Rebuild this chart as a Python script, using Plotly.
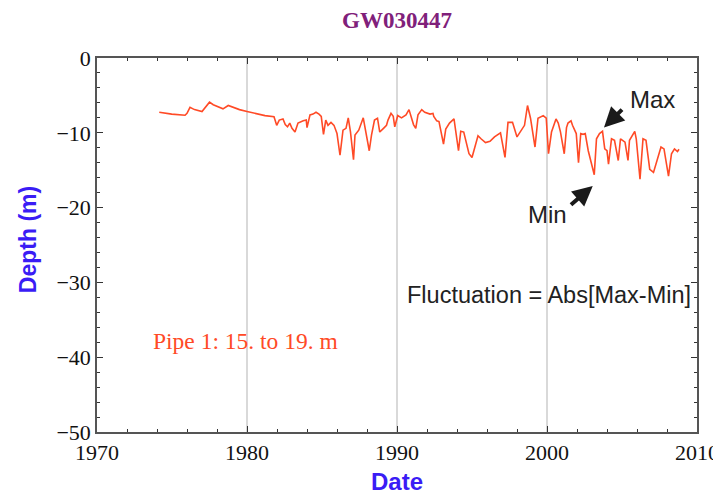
import plotly.graph_objects as go

years = [1974.15, 1974.98, 1975.87, 1976.0, 1976.2, 1976.5, 1977.0, 1977.2, 1977.5, 1977.75,
         1978.0, 1978.4, 1978.75, 1979.1, 1979.5, 1980.0, 1980.65, 1981.2, 1981.8, 1981.98,
         1982.15, 1982.4, 1982.55, 1982.7, 1982.85, 1983.0, 1983.2, 1983.4, 1983.75, 1983.95,
         1984.0, 1984.2, 1984.4, 1984.6, 1984.8, 1984.95, 1985.1, 1985.25, 1985.4, 1985.6,
         1985.8, 1986.0, 1986.2, 1986.4, 1986.6, 1986.75, 1986.9, 1987.1, 1987.2, 1987.45,
         1987.75, 1987.95, 1988.15, 1988.3, 1988.5, 1988.7, 1988.85, 1989.1, 1989.3, 1989.4,
         1989.6, 1989.75, 1989.85, 1990.05, 1990.3, 1990.6, 1990.8, 1991.1, 1991.25, 1991.4,
         1991.65, 1991.85, 1992.2, 1992.4, 1992.45, 1992.65, 1992.8, 1993.1, 1993.25, 1993.5,
         1993.8, 1994.1, 1994.25, 1994.45, 1994.6, 1994.8, 1995.0, 1995.4, 1995.6, 1995.9,
         1996.2, 1996.5, 1996.9, 1997.2, 1997.4, 1997.7, 1998.0, 1998.5, 1998.7, 1998.9,
         1999.2, 1999.4, 1999.75, 1999.95, 2000.1, 2000.3, 2000.6, 2000.75, 2000.9, 2001.15,
         2001.3, 2001.4, 2001.6, 2001.7, 2001.95, 2002.1, 2002.25, 2002.4, 2002.55, 2002.75,
         2002.95, 2003.15, 2003.3, 2003.5, 2003.7, 2003.85, 2004.0, 2004.1, 2004.3, 2004.5,
         2004.75, 2004.9, 2005.2, 2005.4, 2005.5, 2005.85, 2005.95, 2006.2, 2006.4, 2006.6,
         2006.85, 2007.1, 2007.6, 2007.8, 2008.1, 2008.3, 2008.5, 2008.7, 2008.8]
depth = [-7.25, -7.5, -7.65, -7.4, -6.6, -6.9, -7.15, -6.6, -5.9, -6.25,
         -6.5, -6.8, -6.35, -6.6, -6.9, -7.15, -7.45, -7.7, -7.85, -9.0,
         -8.3, -8.15, -8.9, -9.2, -8.7, -9.4, -9.9, -8.7, -8.4, -8.3,
         -9.3, -7.6, -7.5, -7.25, -7.5, -7.8, -10.2, -8.3, -9.0, -8.6,
         -9.0, -10.1, -13.0, -9.65, -9.4, -8.0, -9.9, -13.6, -10.3, -9.65,
         -8.0, -10.3, -12.4, -10.3, -8.3, -8.05, -9.9, -9.4, -9.0, -8.3,
         -7.4, -7.8, -9.2, -7.7, -8.0, -7.6, -6.9, -8.9, -9.4, -7.6,
         -6.9, -7.25, -7.5, -7.4, -7.8, -8.4, -8.5, -11.5, -9.5, -8.7,
         -8.15, -12.4, -9.8, -9.9, -11.25, -12.8, -13.3, -10.4, -10.8, -11.3,
         -11.15, -10.55, -10.0, -13.3, -8.6, -8.6, -10.55, -9.0, -6.35, -8.05,
         -11.9, -8.05, -7.7, -8.05, -12.8, -9.9, -8.15, -8.7, -9.9, -12.8,
         -9.3, -8.7, -8.4, -9.0, -10.1, -14.0, -10.1, -10.2, -10.1, -12.4,
         -14.0, -15.6, -10.8, -10.1, -9.8, -12.15, -12.4, -14.2, -10.8, -11.0,
         -13.7, -10.8, -11.25, -13.7, -11.0, -9.8, -10.8, -16.2, -10.8, -11.0,
         -14.9, -15.3, -11.9, -12.15, -15.8, -12.8, -12.15, -12.5, -12.2]

x_ticks = [1970, 1980, 1990, 2000, 2010]
y_ticks = [0, -10, -20, -30, -40, -50]

title_text = "GW030447"
pipe_text = "Pipe 1: 15. to 19. m"
fluct_text = "Fluctuation = Abs[Max-Min]"
y_title = "Depth (m)"

fig = go.Figure()
fig.add_trace(go.Scatter(x=years, y=depth, mode="lines",
                         line=dict(color="#ff4a26", width=1.6),
                         showlegend=False, hoverinfo="skip"))

serif = "Liberation Serif, Times New Roman, serif"
sans = "Liberation Sans, Arial, sans-serif"
narrow = "Liberation Sans Narrow, Arial Narrow, Liberation Sans, Arial, sans-serif"
axis_common = dict(
    showline=True, linecolor="#555555", linewidth=1.5, mirror="allticks",
    ticks="inside", ticklen=6, tickwidth=1.2, tickcolor="#333333",
    tickfont=dict(family=serif, size=22, color="#111111"),
    zeroline=False, automargin=False,
)
fig.update_xaxes(range=[1970, 2010], tickvals=x_ticks, ticktext=[str(v) for v in x_ticks],
                 showgrid=True, gridcolor="#d9d9d9", gridwidth=1.5,
                 minor=dict(dtick=2, tick0=1970, ticks="inside", ticklen=3, tickcolor="#333333", showgrid=False),
                 title=dict(text="<b>Date</b>", font=dict(family=narrow, size=24, color="#3a1cf5"), standoff=12),
                 **axis_common)
fig.update_yaxes(range=[-50, 0], tickvals=y_ticks, ticktext=["0", "\u221210", "\u221220", "\u221230", "\u221240", "\u221250"],
                 showgrid=False,
                 minor=dict(dtick=2, tick0=0, ticks="inside", ticklen=3, tickcolor="#333333", showgrid=False),
                 **axis_common)

txt_font = dict(family=sans, size=24, color="#222222")
ann = []
# y-axis title placed explicitly
ann.append(dict(x=-0.115, y=0.513, xref="paper", yref="paper", text="<b>" + y_title + "</b>",
                textangle=-90, showarrow=False, xanchor="center", yanchor="middle",
                font=dict(family=sans, size=23, color="#3a1cf5")))
# Max arrow
ann.append(dict(x=2003.8, y=-9.3, ax=2005.1, ay=-6.7, xref="x", yref="y", axref="x", ayref="y",
                text="", showarrow=True, arrowhead=2, arrowsize=1.0, arrowwidth=4, arrowcolor="#1a1a1a"))
ann.append(dict(x=2007.0, y=-5.5, xref="x", yref="y", text="Max", showarrow=False, font=txt_font))
# Min arrow
ann.append(dict(x=2003.05, y=-17.1, ax=2001.5, ay=-19.8, xref="x", yref="y", axref="x", ayref="y",
                text="", showarrow=True, arrowhead=2, arrowsize=1.0, arrowwidth=4, arrowcolor="#1a1a1a"))
ann.append(dict(x=2000.05, y=-20.9, xref="x", yref="y", text="Min", showarrow=False, font=txt_font))
ann.append(dict(x=2000.1, y=-31.7, xref="x", yref="y", text=fluct_text, showarrow=False,
                font=dict(family=sans, size=23.5, color="#222222")))
ann.append(dict(x=1979.9, y=-37.8, xref="x", yref="y", text=pipe_text, showarrow=False,
                font=dict(family=serif, size=23.5, color="#ff4a26")))

# The page body adds an 8px offset, so the figure is sized/placed to compensate.
fig.update_layout(
    width=713, height=487,
    margin=dict(l=89, r=24, t=50, b=63, autoexpand=False),
    paper_bgcolor="white", plot_bgcolor="white",
    title=dict(text="<b>" + title_text + "</b>", x=0.5, xanchor="center", y=0.975, yanchor="middle",
               xref="paper", font=dict(family=serif, size=23, color="#80207a")),
    annotations=ann,
)

fig.write_html("out.html")
